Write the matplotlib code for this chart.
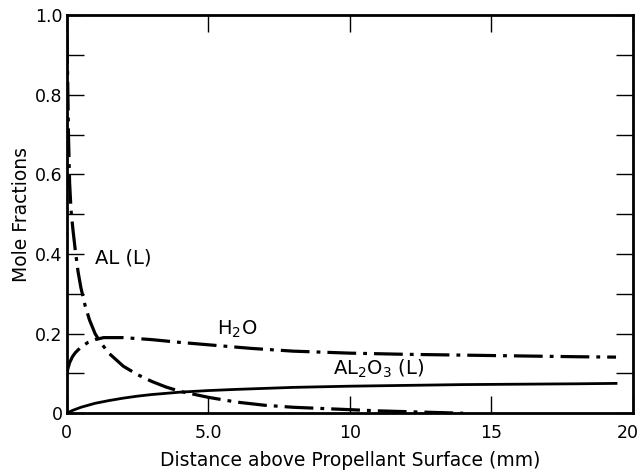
import matplotlib.pyplot as plt
import matplotlib.transforms as mtransforms
from matplotlib.ticker import MultipleLocator, FixedLocator

# mole fraction profiles vs distance above the propellant surface (mm)
al_x = [0.0, 0.03, 0.06, 0.1, 0.15, 0.22, 0.3, 0.4, 0.5, 0.65, 0.8, 1.0,
        1.2, 1.5, 2.0, 2.5, 3.0, 3.5, 4.0, 5.0, 6.0, 7.0, 8.0, 9.0, 10.0,
        11.0, 12.0, 13.0, 14.0]
al_y = [0.95, 0.85, 0.70, 0.58, 0.51, 0.46, 0.41, 0.355, 0.315, 0.27, 0.235,
        0.20, 0.177, 0.15, 0.118, 0.097, 0.08, 0.066, 0.055, 0.04, 0.028,
        0.02, 0.015, 0.012, 0.009, 0.006, 0.004, 0.002, 0.0]

h2o_x = [0.0, 0.05, 0.1, 0.2, 0.3, 0.5, 0.75, 1.0, 1.3, 2.0, 3.0, 4.0, 5.0,
         6.5, 8.0, 10.0, 12.0, 14.0, 16.0, 18.0, 19.4]
h2o_y = [0.10, 0.115, 0.127, 0.142, 0.152, 0.166, 0.178, 0.185, 0.19, 0.19,
         0.185, 0.178, 0.172, 0.163, 0.156, 0.151, 0.148, 0.146, 0.144,
         0.142, 0.141]

al2o3_x = [0.0, 0.2, 0.5, 1.0, 1.5, 2.0, 2.5, 3.0, 4.0, 5.0, 6.0, 8.0, 10.0,
           12.0, 14.0, 16.0, 18.0, 19.4]
al2o3_y = [0.0, 0.007, 0.015, 0.025, 0.032, 0.038, 0.043, 0.047, 0.053,
           0.057, 0.060, 0.065, 0.068, 0.070, 0.072, 0.073, 0.074, 0.075]

x_ticks = [0, 5, 10, 15, 20]
x_labels = ['0', '5.0', '10', '15', '20']
y_ticks = [0, 0.2, 0.4, 0.6, 0.8, 1.0]
y_labels = ['0', '0.2', '0.4', '0.6', '0.8', '1.0']

plt.rcParams['font.family'] = 'DejaVu Sans'

fig = plt.figure(figsize=(6.42, 4.75), dpi=100)
ax = fig.add_axes([0.104, 0.13, 0.882, 0.838])

dashdot = (0, (9, 2.2, 1.2, 2.2))
ax.plot(al_x, al_y, color='black', lw=2.3, linestyle=dashdot)
ax.plot(h2o_x, h2o_y, color='black', lw=2.3, linestyle=dashdot)
ax.plot(al2o3_x, al2o3_y, color='black', lw=2.0, linestyle='-')

ax.text(1.0, 0.39, 'AL (L)', fontsize=14, va='center')
ax.text(5.3, 0.21, 'H$_2$O', fontsize=14, va='center')
ax.text(9.4, 0.112, 'AL$_2$O$_3$ (L)', fontsize=14, va='center')

ax.set_xlim(0, 20)
ax.set_ylim(0, 1.0)
ax.xaxis.set_major_locator(FixedLocator(x_ticks))
ax.set_xticklabels(x_labels)
ax.yaxis.set_major_locator(FixedLocator(y_ticks))
ax.set_yticklabels(y_labels)
ax.yaxis.set_minor_locator(MultipleLocator(0.1))

ax.tick_params(which='both', direction='in', top=True, right=True,
               width=1.0, labelsize=12.5, pad=3)
ax.tick_params(axis='x', pad=8)
ax.tick_params(which='major', length=12)
ax.tick_params(which='minor', length=12)
for sp in ax.spines.values():
    sp.set_linewidth(2.0)

# nudge the last x label so it stays inside the figure
last = ax.get_xticklabels()[-1]
last.set_transform(last.get_transform() +
                   mtransforms.ScaledTranslation(-4 / 72, 0, fig.dpi_scale_trans))

ax.set_xlabel('Distance above Propellant Surface (mm)', fontsize=13.5, labelpad=6)
ax.set_ylabel('Mole Fractions', fontsize=13.5, labelpad=3)

fig.savefig('out.png', dpi=100)
